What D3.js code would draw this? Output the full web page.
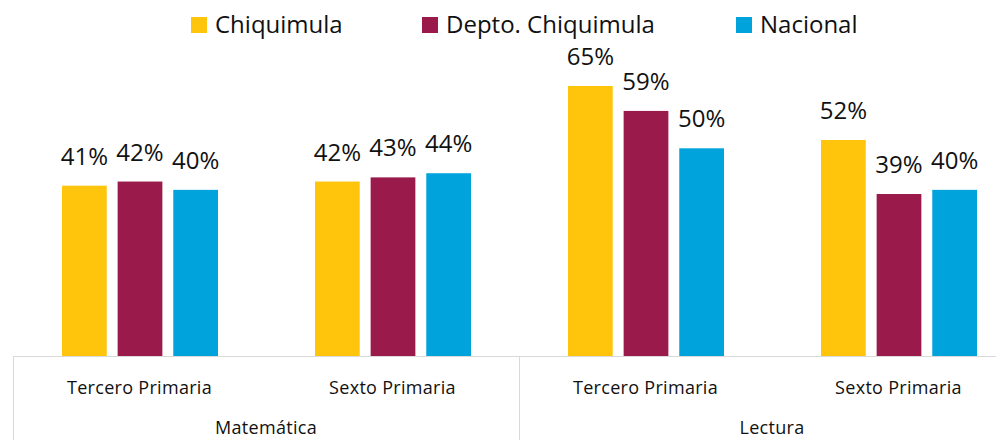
<!DOCTYPE html>
<html>
<head>
<meta charset="utf-8">
<script src="https://cdn.jsdelivr.net/npm/d3@7"></script>
<style>
  body { margin: 0; background: #fff; }
  text { font-family: "Open Sans", "Noto Sans", sans-serif; fill: #111; }
</style>
</head>
<body>
<div id="chart"></div>
<script>
const width = 996;
const height = 440;

// data
const subjects = ["Matemática", "Lectura"];
const grades = ["Tercero Primaria", "Sexto Primaria"];
const series = ["Chiquimula", "Depto. Chiquimula", "Nacional"];
const colors = ["#FFC50C", "#9A1A4B", "#00A3DB"];
const chiquimula = [41, 42, 65, 52];
const depto = [42, 43, 59, 39];
const nacional = [40, 44, 50, 40];

const groups = [];
subjects.forEach(s => grades.forEach(g => groups.push(s + "|" + g)));
const values = [chiquimula, depto, nacional];

const baseY = 356;
const left = 13;
const groupW = 253;

const svg = d3.select("#chart")
  .append("svg")
  .attr("width", width)
  .attr("height", height);

// scales
const x0 = d3.scaleBand()
  .domain(groups)
  .range([left, left + groupW * groups.length]);

const x1 = d3.scaleBand()
  .domain(series)
  .range([49, 205])
  .paddingInner(0.196);

const y = d3.scaleLinear()
  .domain([0, 65])
  .range([baseY, 86]);

// bars
series.forEach((s, si) => {
  const g = svg.append("g");
  g.selectAll("rect")
    .data(values[si])
    .enter()
    .append("rect")
      .attr("x", (d, i) => x0(groups[i]) + x1(s))
      .attr("y", d => y(d))
      .attr("width", x1.bandwidth())
      .attr("height", d => baseY - y(d))
      .style("fill", colors[si]);

  // value labels
  g.selectAll("text")
    .data(values[si])
    .enter()
    .append("text")
      .attr("x", (d, i) => x0(groups[i]) + x1(s) + x1.bandwidth() / 2)
      .attr("y", d => y(d) - 21)
      .attr("text-anchor", "middle")
      .style("font-size", "24px")
      .text(d => d + "%");
});

// axis lines
const lineColor = "#d9d9d9";
svg.append("line")
  .attr("x1", left).attr("x2", width)
  .attr("y1", baseY + 0.5).attr("y2", baseY + 0.5)
  .style("stroke", lineColor);

[0, 2, 4].forEach(i => {
  const xx = Math.round(left + groupW * i) + 0.5;
  svg.append("line")
    .attr("x1", xx).attr("x2", xx)
    .attr("y1", baseY).attr("y2", height)
    .style("stroke", lineColor);
});

// category labels
svg.selectAll(".grade")
  .data(groups)
  .enter()
  .append("text")
    .attr("class", "grade")
    .attr("x", d => x0(d) + x0.bandwidth() / 2)
    .attr("y", 394)
    .attr("text-anchor", "middle")
    .style("font-size", "18px")
    .style("letter-spacing", "0.3px")
    .text(d => d.split("|")[1]);

svg.selectAll(".subject")
  .data(subjects)
  .enter()
  .append("text")
    .attr("class", "subject")
    .attr("x", (d, i) => left + groupW * (2 * i + 1))
    .attr("y", 434)
    .attr("text-anchor", "middle")
    .style("font-size", "18px")
    .style("letter-spacing", "0.3px")
    .text(d => d);

// legend
const legendX = [191, 422, 736];
const legend = svg.append("g");
series.forEach((s, i) => {
  legend.append("rect")
    .attr("x", legendX[i])
    .attr("y", 17)
    .attr("width", 16)
    .attr("height", 16)
    .style("fill", colors[i]);
  legend.append("text")
    .attr("x", legendX[i] + 24)
    .attr("y", 33)
    .style("font-size", "24px")
    .text(s);
});
</script>
</body>
</html>
